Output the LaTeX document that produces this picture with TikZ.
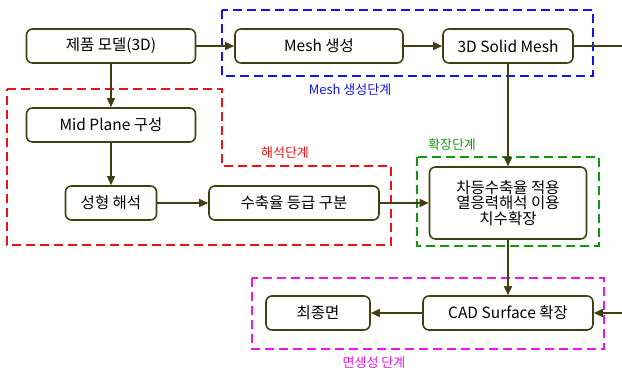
\documentclass[tikz,border=0pt]{standalone}
\usepackage{fontspec}
\setmainfont{Noto Sans CJK KR}
\usetikzlibrary{arrows.meta}
\definecolor{olive}{RGB}{64,64,16}
\definecolor{dblue}{RGB}{20,20,230}
\definecolor{dred}{RGB}{235,20,20}
\definecolor{dgreen}{RGB}{20,150,20}
\definecolor{dmag}{RGB}{240,20,240}
\tikzset{
  box/.style={draw=olive, line width=1.6pt, rounded corners=6pt, fill=white, minimum height=34pt, inner sep=1pt, font=\fontsize{15.5}{17}\selectfont},
  conn/.style={draw=olive, line width=1.6pt, -{Triangle[length=9pt,width=8pt]}},
  plain/.style={draw=olive, line width=1.6pt},
  stage/.style={line width=1.4pt, dash pattern=on 9pt off 5pt},
  stagelabel/.style={font=\fontsize{13}{14}\selectfont, inner sep=0pt}
}
\begin{document}
\begin{tikzpicture}[x=1pt,y=-1pt]
\useasboundingbox (0,0) rectangle (622,372);
% stage boxes
\draw[stage, dblue] (222,10) rectangle (593,76);
\draw[stage, dred] (7,89) -- (222,89) -- (222,166) -- (391,166) -- (391,245) -- (7,245) -- cycle;
\draw[stage, dgreen] (417,157) rectangle (599,246);
\draw[stage, dmag] (252,278) rectangle (604,349);
% stage labels
\node[stagelabel, text=dblue] (lblue) at (350,90) {Mesh 생성단계};
\node[stagelabel, text=dred] (lred) at (285,153) {해석단계};
\node[stagelabel, text=dgreen] (lgreen) at (452,145) {확장단계};
\node[stagelabel, text=dmag] (lmag) at (374,363) {면생성 단계};
% nodes
\node[box, minimum width=169pt] (model) at (111,46) {제품 모델(3D)};
\node[box, minimum width=168pt] (mesh) at (319,46) {Mesh 생성};
\node[box, minimum width=130pt] (solid) at (508,46) {3D Solid Mesh};
\node[box, minimum width=169pt] (mid) at (111,125) {Mid Plane 구성};
\node[box, minimum width=91pt] (anal) at (111,203) {성형 해석};
\node[box, minimum width=170pt] (grade) at (294,203) {수축율 등급 구분};
\node[box, minimum width=157pt, minimum height=72pt, align=center, font=\fontsize{15.5}{15.5}\selectfont] (expand) at (508,203) {차등수축율 적용\\열응력해석 이용\\치수확장};
\node[box, minimum width=170pt] (cad) at (508,313) {CAD Surface 확장};
\node[box, minimum width=104pt] (final) at (318,313) {최종면};
\coordinate (outR) at (622,46);
\coordinate (inR) at (622,313);
% connectors
\draw[conn] (model) -- (mesh);
\draw[conn] (mesh) -- (solid);
\draw[plain] (solid.east) -- (outR);
\draw[conn] (model) -- (mid);
\draw[conn] (mid) -- (anal);
\draw[conn] (anal) -- (grade);
\draw[conn] (grade) -- (expand);
\draw[conn] (solid) -- (expand);
\draw[conn] (expand) -- (cad);
\draw[conn] (inR) -- (cad.east);
\draw[conn] (cad) -- (final);
\end{tikzpicture}
\end{document}
